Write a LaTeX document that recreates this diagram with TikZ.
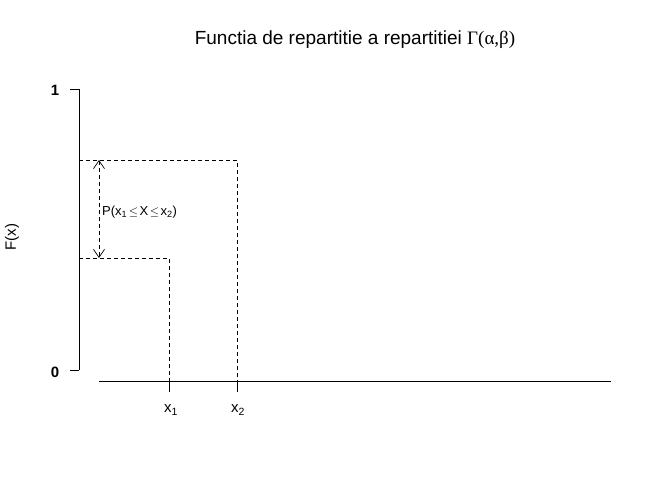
\documentclass[tikz,border=0pt]{standalone}
\usepackage{fontspec}
\setmainfont{Liberation Sans}
\newfontfamily\greekfont{Liberation Serif}
\usetikzlibrary{arrows.meta}
\tikzset{
  guide/.style={line width=0.8pt, dash pattern=on 4pt off 3pt},
  axisline/.style={line width=0.8pt},
  ticklab/.style={font=\fontsize{15}{17}\selectfont},
  barb/.tip={Straight Barb[length=8pt,width=11pt,line width=0.7pt]},
}
\begin{document}
\begin{tikzpicture}[x=1pt, y=-1pt]
  \useasboundingbox[fill=white] (0,0) rectangle (672,480);
  % title
  \node[font=\fontsize{19}{22}\selectfont] (title) at (355,40) {Functia de repartitie a repartitiei {\greekfont Γ(α,β)}};
  % y axis
  \coordinate (ytop) at (79,89);
  \coordinate (ybot) at (79,370);
  \draw[axisline] (ytop) -- (ybot);
  \draw[axisline] (ytop) -- ++(-9,0);
  \draw[axisline] (ybot) -- ++(-9,0);
  \node[font=\bfseries\fontsize{15}{17}\selectfont] (one) at (55,90) {1};
  \node[font=\bfseries\fontsize{15}{17}\selectfont] (zero) at (55,372) {0};
  \node[ticklab, rotate=90] (ylab) at (12,237) {F(x)};
  % x axis
  \coordinate (xleft) at (99,381);
  \coordinate (xright) at (611,381);
  \draw[axisline] (xleft) -- (xright);
  % levels F(x1), F(x2)
  \coordinate (f2) at (79,160);
  \coordinate (f1) at (79,258);
  \coordinate (c2) at (237,160);
  \coordinate (c1) at (169,258);
  \coordinate (t2) at (237,381);
  \coordinate (t1) at (169,381);
  \draw[guide] (f2) -- (c2) -- (t2);
  \draw[guide] (f1) -- (c1) -- (t1);
  \draw[axisline] (t1) -- ++(0,11);
  \draw[axisline] (t2) -- ++(0,11);
  \node[ticklab] (lx1) at (171,410) {x\textsubscript{1}};
  \node[ticklab] (lx2) at (238,410) {x\textsubscript{2}};
  % probability bracket
  \coordinate (a2) at (99,160);
  \coordinate (a1) at (99,258);
  \draw[guide, barb-barb] (a2) -- (a1);
  \node[anchor=west, inner sep=0pt, font=\fontsize{13}{15}\selectfont] (prob) at (102,212) {P(x\textsubscript{1}\hspace{1.5pt}$\leq$\hspace{1.5pt}X\hspace{1.5pt}$\leq$\hspace{1.5pt}x\textsubscript{2})};
\end{tikzpicture}
\end{document}
